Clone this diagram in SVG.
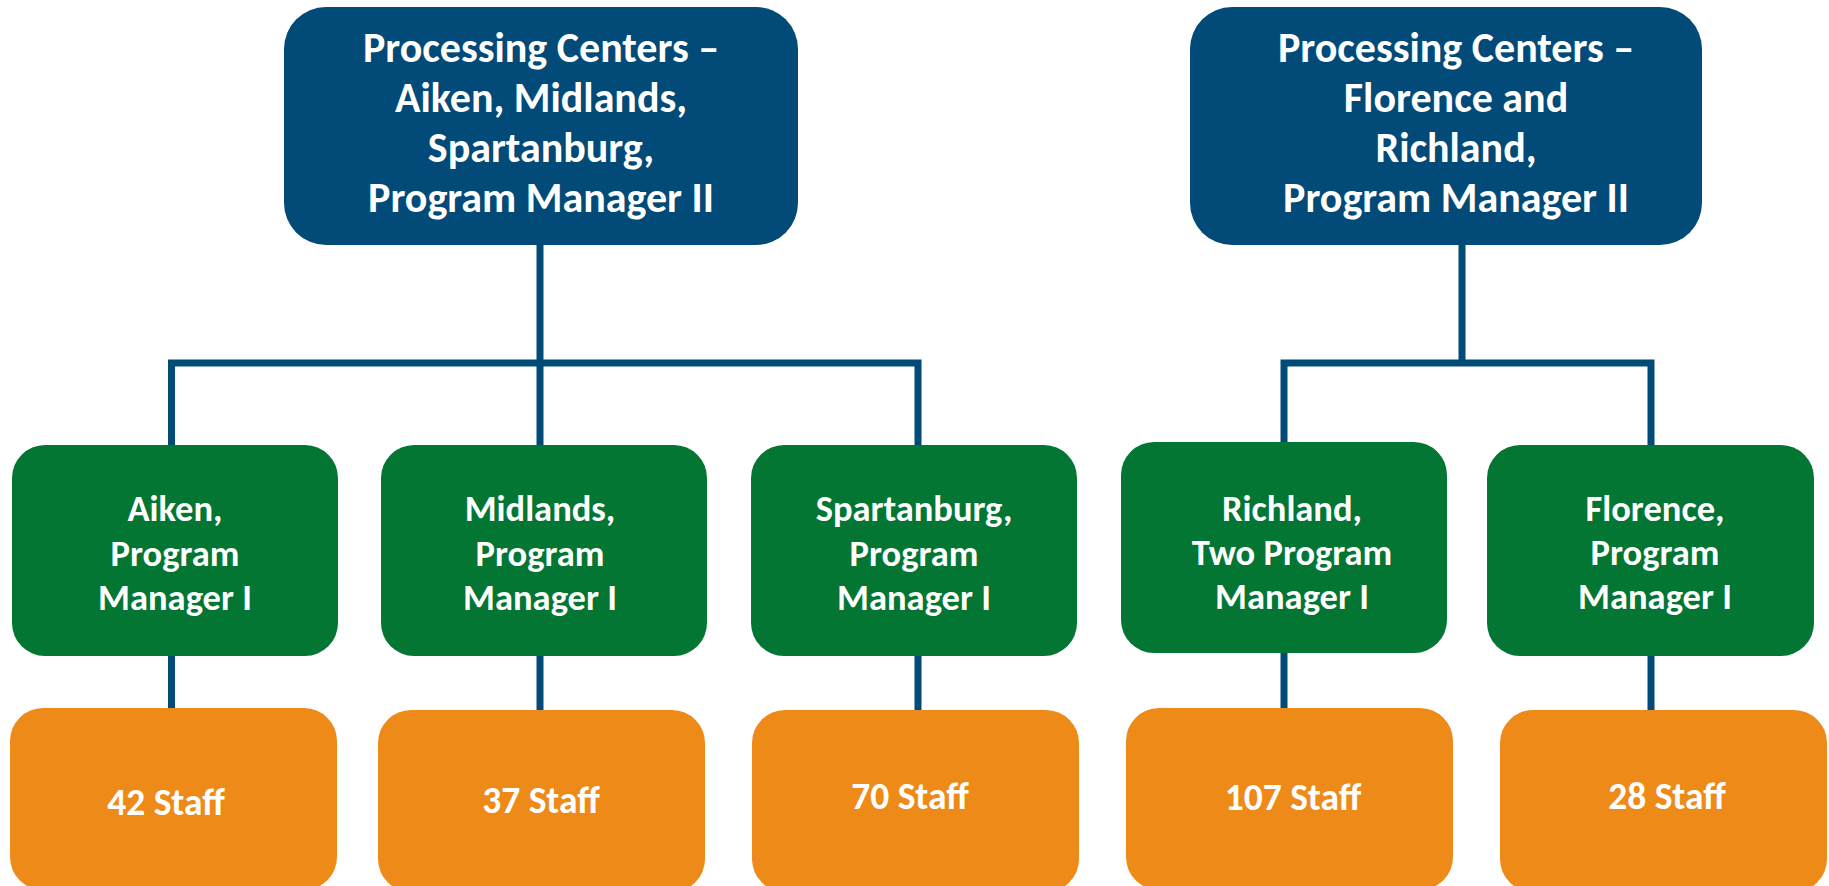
<svg xmlns="http://www.w3.org/2000/svg" width="1829" height="886" viewBox="0 0 1829 886">
<style>
.top{fill:#024A77}
.mid{fill:#037634}
.bot{fill:#EE8A17}
.conn{fill:none;stroke:#024A77;stroke-width:7;stroke-linejoin:miter;stroke-linecap:butt}
text{font-family:Carlito,Lato,"Liberation Sans",sans-serif;font-weight:bold;fill:#FFFFFF;text-anchor:middle}
.t1{font-size:42px}
.t2{font-size:36.5px}
.t3{font-size:37.5px}
</style>
<rect width="1829" height="886" fill="#FFFFFF"/>
<g id="connectors">
<path class="conn" d="M540,244 V445"/>
<path class="conn" d="M171.5,445 V363 H918 V445"/>
<path class="conn" d="M171.5,656 V709"/>
<path class="conn" d="M540,656 V711"/>
<path class="conn" d="M918,656 V711"/>
<path class="conn" d="M1462,244 V363"/>
<path class="conn" d="M1284,443 V363 H1651 V446"/>
<path class="conn" d="M1284,653 V709"/>
<path class="conn" d="M1651,656 V711"/>
</g>
<g id="pc-left">
<rect class="top" x="284" y="7" width="514" height="238" rx="42"/>
<text class="t1"><tspan x="541" y="62">Processing Centers –</tspan><tspan x="541" y="112">Aiken, Midlands,</tspan><tspan x="541" y="162">Spartanburg,</tspan><tspan x="541" y="212">Program Manager II</tspan></text>
</g>
<g id="pc-right">
<rect class="top" x="1190" y="7" width="512" height="238" rx="42"/>
<text class="t1"><tspan x="1456" y="62">Processing Centers –</tspan><tspan x="1456" y="112">Florence and</tspan><tspan x="1456" y="162">Richland,</tspan><tspan x="1456" y="212">Program Manager II</tspan></text>
</g>
<g id="aiken-pm">
<rect class="mid" x="12" y="445" width="326" height="211" rx="33"/>
<text class="t2"><tspan x="175" y="521">Aiken,</tspan><tspan x="175" y="566">Program</tspan><tspan x="175" y="610">Manager I</tspan></text>
</g>
<g id="midlands-pm">
<rect class="mid" x="381" y="445" width="326" height="211" rx="33"/>
<text class="t2"><tspan x="540" y="521">Midlands,</tspan><tspan x="540" y="566">Program</tspan><tspan x="540" y="610">Manager I</tspan></text>
</g>
<g id="spartanburg-pm">
<rect class="mid" x="751" y="445" width="326" height="211" rx="33"/>
<text class="t2"><tspan x="914" y="521">Spartanburg,</tspan><tspan x="914" y="566">Program</tspan><tspan x="914" y="610">Manager I</tspan></text>
</g>
<g id="richland-pm">
<rect class="mid" x="1121" y="442" width="326" height="211" rx="33"/>
<text class="t2"><tspan x="1292" y="521">Richland,</tspan><tspan x="1292" y="565">Two Program</tspan><tspan x="1292" y="609">Manager I</tspan></text>
</g>
<g id="florence-pm">
<rect class="mid" x="1487" y="445" width="327" height="211" rx="33"/>
<text class="t2"><tspan x="1655" y="521">Florence,</tspan><tspan x="1655" y="565">Program</tspan><tspan x="1655" y="609">Manager I</tspan></text>
</g>
<g id="aiken-staff">
<rect class="bot" x="10" y="708" width="327" height="182" rx="33"/>
<text class="t3" x="166" y="815">42 Staff</text>
</g>
<g id="midlands-staff">
<rect class="bot" x="378" y="710" width="327" height="182" rx="33"/>
<text class="t3" x="541" y="813">37 Staff</text>
</g>
<g id="spartanburg-staff">
<rect class="bot" x="752" y="710" width="327" height="182" rx="33"/>
<text class="t3" x="910" y="809">70 Staff</text>
</g>
<g id="richland-staff">
<rect class="bot" x="1126" y="708" width="327" height="182" rx="33"/>
<text class="t3" x="1293" y="810">107 Staff</text>
</g>
<g id="florence-staff">
<rect class="bot" x="1500" y="710" width="327" height="182" rx="33"/>
<text class="t3" x="1667" y="809">28 Staff</text>
</g>
</svg>
